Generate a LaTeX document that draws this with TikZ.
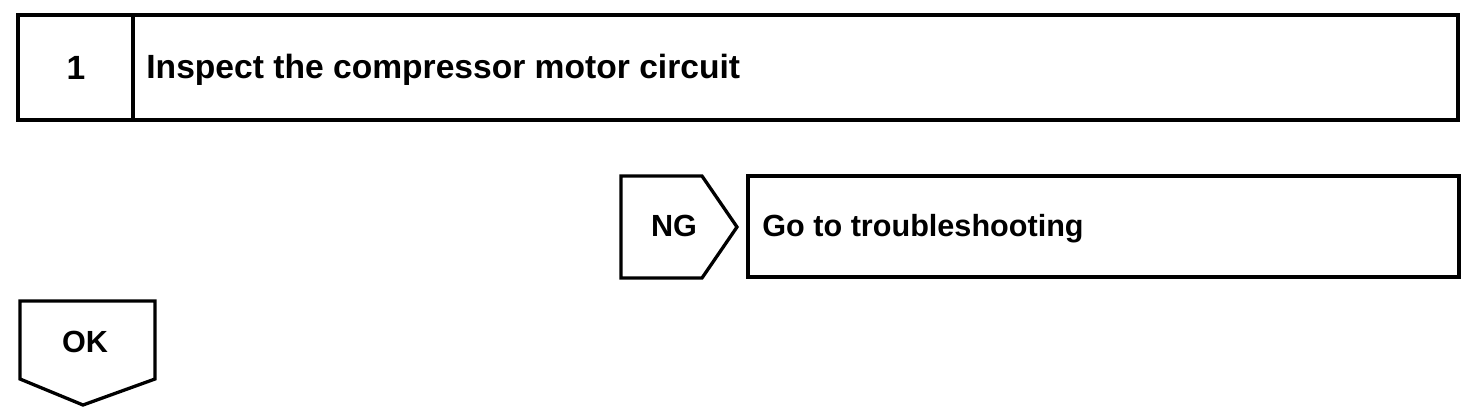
\documentclass[tikz,border=0pt]{standalone}
\usepackage{fontspec}
\setmainfont{Liberation Sans}
\usetikzlibrary{positioning}

\begin{document}
\begin{tikzpicture}[x=0.5pt,y=-0.5pt,
    frame/.style={line width=1.65pt, line join=miter},
    label/.style={font=\bfseries\fontsize{15.3}{18}\selectfont, inner sep=0pt},
    biglabel/.style={label, font=\bfseries\fontsize{16.8}{20}\selectfont}]
  \useasboundingbox (0,0) rectangle (1472,416);
  % step header
  \draw[frame] (18,15) rectangle (1458,120);
  \draw[frame] (133,15) -- (133,120);
  \node[biglabel, anchor=base] (stepnum) at (76,80) {1};
  \node[biglabel, anchor=base west] (steptitle) at (146,79) {Inspect the compressor motor circuit};
  % NG branch
  \draw[frame] (621,176) -- (702,176) -- (737,227) -- (702,278) -- (621,278) -- cycle;
  \node[label, anchor=base] (ngtag) at (674,237) {NG};
  \draw[frame] (748,176) rectangle (1459,277);
  \node[label, anchor=base west] (ngaction) at (762,237) {Go to troubleshooting};
  % OK branch
  \draw[frame] (20,301) -- (155,301) -- (155,379) -- (83,405) -- (20,379) -- cycle;
  \node[label, anchor=base] (oktag) at (85,353) {OK};
\end{tikzpicture}
\end{document}
